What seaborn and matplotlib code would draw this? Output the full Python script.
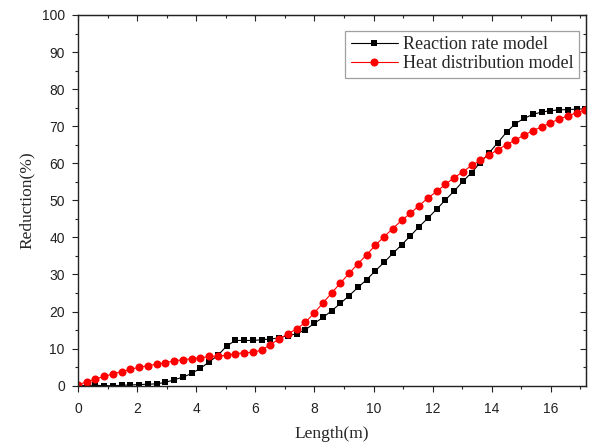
import numpy as np
import pandas as pd
import matplotlib
matplotlib.use("Agg")
import matplotlib.pyplot as plt
from matplotlib.ticker import MultipleLocator
import seaborn as sns

# Sample positions along the length (m), evenly spaced
length = np.round(np.arange(59) * 0.296, 3)

# Reduction (%)
reaction_rate = [0.0, 0.1, 0.1, 0.0, 0.0, 0.1, 0.2, 0.3, 0.4, 0.5,
                 0.9, 1.6, 2.3, 3.3, 4.7, 6.4, 8.2, 10.7, 12.2, 12.2,
                 12.2, 12.4, 12.6, 12.9, 13.5, 14.0, 15.1, 16.8, 18.4, 20.2,
                 22.2, 24.3, 26.5, 28.6, 31.0, 33.3, 35.7, 38.0, 40.4, 42.9,
                 45.2, 47.6, 50.1, 52.5, 55.1, 57.5, 60.2, 62.8, 65.6, 68.4,
                 70.7, 72.1, 73.2, 73.8, 74.2, 74.4, 74.5, 74.6, 74.7]
heat_dist = [0.3, 1.0, 1.8, 2.5, 3.2, 3.8, 4.4, 5.0, 5.4, 5.8,
             6.2, 6.7, 7.0, 7.3, 7.5, 7.9, 8.0, 8.2, 8.6, 8.9,
             9.0, 9.6, 11.1, 12.6, 14.0, 15.3, 17.1, 19.6, 22.3, 25.0,
             27.7, 30.3, 32.9, 35.3, 37.9, 40.2, 42.4, 44.6, 46.5, 48.6,
             50.6, 52.4, 54.3, 56.1, 57.7, 59.4, 60.8, 62.2, 63.7, 65.0,
             66.3, 67.6, 68.8, 69.8, 70.9, 71.9, 72.8, 73.6, 74.4]

df = pd.DataFrame({"length": length, "reaction": reaction_rate, "heat": heat_dist})

sns.set_style("ticks")
plt.rcParams["font.family"] = ["Liberation Sans", "DejaVu Sans"]

fig = plt.figure(figsize=(5.89, 4.45), dpi=100)
ax = fig.add_axes([0.1324, 0.1333, 0.8630, 0.8330])

sns.lineplot(data=df, x="length", y="reaction", ax=ax, color="black", lw=0.8,
             marker="s", markersize=4.8, markeredgewidth=0, label="Reaction rate model")
sns.lineplot(data=df, x="length", y="heat", ax=ax, color="red", lw=0.8,
             marker="o", markersize=5.8, markeredgewidth=0, label="Heat distribution model")

ax.set_xlim(0, 17.2)
ax.set_ylim(0, 100)
ax.xaxis.set_major_locator(MultipleLocator(2))
ax.xaxis.set_minor_locator(MultipleLocator(1))
ax.yaxis.set_major_locator(MultipleLocator(10))
ax.yaxis.set_minor_locator(MultipleLocator(5))

ax.tick_params(which="both", direction="out", labelsize=10, colors="#222222",
               width=0.8, top=False, right=False)
ax.tick_params(which="major", length=4)
ax.tick_params(which="minor", length=2.5)
ax.tick_params(axis="x", which="major", pad=8)
ax.tick_params(axis="y", which="major", pad=5.5)
for side in ["top", "right", "left", "bottom"]:
    ax.spines[side].set_visible(True)
    ax.spines[side].set_linewidth(1.0)
    ax.spines[side].set_color("#222222")

# inward ticks on the top and right frame, as in the original
top = ax.secondary_xaxis("top")
top.xaxis.set_major_locator(MultipleLocator(2))
top.xaxis.set_minor_locator(MultipleLocator(1))
top.tick_params(which="both", direction="in", labeltop=False, width=0.8)
top.tick_params(which="major", length=4)
top.tick_params(which="minor", length=2.5)
right = ax.secondary_yaxis("right")
right.yaxis.set_major_locator(MultipleLocator(10))
right.yaxis.set_minor_locator(MultipleLocator(5))
right.tick_params(which="both", direction="in", labelright=False, width=0.8)
right.tick_params(which="major", length=4)
right.tick_params(which="minor", length=2.5)

ax.set_xlabel("Length(m)", family="Liberation Serif", fontsize=12.5, labelpad=7)
ax.set_ylabel("Reduction(%)", family="Liberation Serif", fontsize=12.5, labelpad=5)

leg = ax.legend(loc="upper right", bbox_to_anchor=(0.986, 0.957), frameon=True,
                fancybox=False, shadow=False, prop={"family": "Liberation Serif", "size": 13},
                handlelength=2.6, borderpad=0.3, labelspacing=0.1, handletextpad=0.3,
                borderaxespad=0)
leg.get_frame().set_edgecolor("#888888")
leg.get_frame().set_linewidth(0.9)

fig.savefig("out.png", dpi=100)
